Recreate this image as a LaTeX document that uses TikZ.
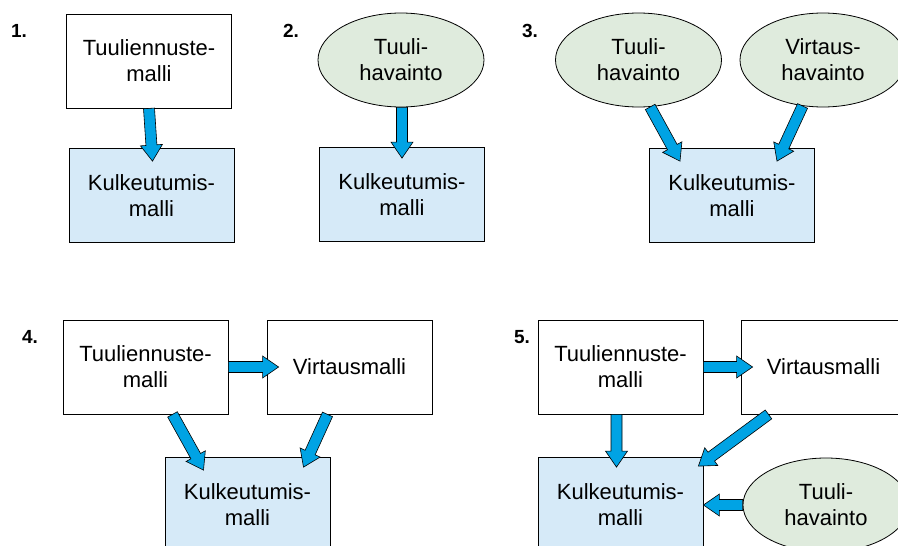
\documentclass[tikz,border=0pt]{standalone}
\usepackage{fontspec}
\setmainfont{Liberation Sans}
\usetikzlibrary{calc, shapes.geometric}
\definecolor{kblue}{HTML}{D6EAF8}
\definecolor{hgreen}{HTML}{DFEBDD}
\definecolor{arrblue}{HTML}{00A3E4}

\tikzset{
  model/.style={draw=black, line width=0.8pt, fill=white, minimum width=165pt,
    minimum height=94pt, inner sep=0pt, align=center,
    font=\fontsize{22}{26}\selectfont},
  transport/.style={model, fill=kblue},
  obs/.style={ellipse, draw=black, line width=0.8pt, fill=hgreen, minimum width=166pt,
    minimum height=94pt, inner sep=0pt, align=center,
    font=\fontsize{22}{26}\selectfont},
  num/.style={font=\fontsize{19}{19}\selectfont\bfseries},
  blockarr/.style={fill=arrblue, draw=black, line width=0.6pt, line join=miter}
}

% block arrow from #1 to #2
\newcommand{\bigarrow}[2]{%
  \path (#1) coordinate (ba-s) (#2) coordinate (ba-e)
    ($(ba-e)!16pt!(ba-s)$) coordinate (ba-h);
  \filldraw[blockarr] ($(ba-s)!5.5pt!90:(ba-e)$) -- ($(ba-h)!5.5pt!90:(ba-e)$)
    -- ($(ba-h)!11pt!90:(ba-e)$) -- (ba-e) -- ($(ba-h)!11pt!-90:(ba-e)$)
    -- ($(ba-h)!5.5pt!-90:(ba-e)$) -- ($(ba-s)!5.5pt!-90:(ba-e)$) -- cycle;}

\begin{document}
\begin{tikzpicture}[x=1pt, y=-1pt]

% Page
\useasboundingbox (0,0) rectangle (898,546);
\clip (0,0) rectangle (898,546);

% Panel numbers
\foreach \n/\px/\py in {1/19/31, 2/291/31, 3/530/31, 4/30/337, 5/522/337}
  \node[num] (num\n) at (\px,\py) {\n.};

% 1.
\node[model] (t1) at (149,61) {Tuuliennuste-\\malli};
\node[transport] (k1) at (151.5,195.5) {Kulkeutumis-\\malli};

% 2.
\node[obs] (h2) at (401,60) {Tuuli-\\havainto};
\node[transport] (k2) at (402,194.5) {Kulkeutumis-\\malli};

% 3.
\node[obs] (h3a) at (638.5,60) {Tuuli-\\havainto};
\node[obs] (h3b) at (823,60) {Virtaus-\\havainto};
\node[transport] (k3) at (732,195.5) {Kulkeutumis-\\malli};

% 4.
\node[model] (t4) at (145.5,367) {Tuuliennuste-\\malli};
\node[model] (v4) at (349.5,367) {Virtausmalli};
\node[transport] (k4) at (247.5,504.5) {Kulkeutumis-\\malli};

% 5.
\node[model] (t5) at (620.5,367) {Tuuliennuste-\\malli};
\node[model] (v5) at (823.5,367) {Virtausmalli};
\node[transport] (k5) at (620.5,504.5) {Kulkeutumis-\\malli};
\node[obs] (h5) at (826,505) {Tuuli-\\havainto};

% Arrows
\bigarrow{t1.south}{[xshift=1pt, yshift=-13pt]k1.north}
\bigarrow{[xshift=1pt]h2.south}{[yshift=-11pt]k2.north}
\bigarrow{h3a.-76}{[xshift=-52pt, yshift=-13pt]k3.north}
\bigarrow{h3b.-114}{[xshift=45pt, yshift=-13pt]k3.north}
\bigarrow{t4.east}{[xshift=12pt]v4.west}
\bigarrow{[xshift=27pt]t4.south}{[xshift=-44pt, yshift=-13pt]k4.north}
\bigarrow{[xshift=-22pt]v4.south}{[xshift=56pt, yshift=-10pt]k4.north}
\bigarrow{t5.east}{[xshift=12pt]v5.west}
\bigarrow{[xshift=-4pt]t5.south}{[xshift=-4pt, yshift=-10pt]k5.north}
\bigarrow{[xshift=-55pt]v5.south}{[xshift=-5pt, yshift=-9pt]k5.north east}
\bigarrow{h5.west}{h5.west -| k5.east}

\end{tikzpicture}
\end{document}
